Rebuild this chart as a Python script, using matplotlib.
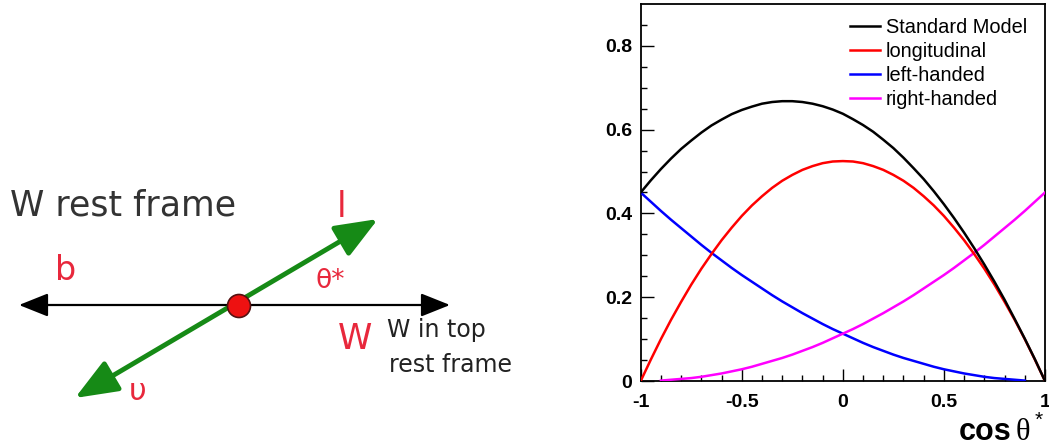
import matplotlib.pyplot as plt
from matplotlib.patches import FancyArrowPatch, Circle

# cos(theta*) sampling points and curve values
cos_theta = [-1.0, -0.95, -0.9, -0.85, -0.8, -0.75, -0.7, -0.65, -0.6, -0.55, -0.5,
             -0.45, -0.4, -0.35, -0.3, -0.25, -0.2, -0.15, -0.1, -0.05, 0.0,
             0.05, 0.1, 0.15, 0.2, 0.25, 0.3, 0.35, 0.4, 0.45, 0.5,
             0.55, 0.6, 0.65, 0.7, 0.75, 0.8, 0.85, 0.9, 0.95, 1.0]
standard_model = [0.450, 0.479, 0.506, 0.531, 0.554, 0.574, 0.593, 0.610, 0.624, 0.637, 0.647,
                  0.655, 0.662, 0.666, 0.668, 0.668, 0.666, 0.662, 0.656, 0.648, 0.638,
                  0.625, 0.611, 0.595, 0.576, 0.556, 0.533, 0.508, 0.482, 0.453, 0.422,
                  0.389, 0.354, 0.317, 0.278, 0.237, 0.194, 0.148, 0.101, 0.052, 0.000]
longitudinal = [0.000, 0.051, 0.100, 0.146, 0.189, 0.230, 0.268, 0.303, 0.336, 0.366, 0.394,
                0.419, 0.441, 0.461, 0.478, 0.492, 0.504, 0.513, 0.520, 0.524, 0.525,
                0.524, 0.520, 0.513, 0.504, 0.492, 0.478, 0.461, 0.441, 0.419, 0.394,
                0.366, 0.336, 0.303, 0.268, 0.230, 0.189, 0.146, 0.100, 0.051, 0.000]
# left-handed runs from -1 to 0.9, right-handed from -0.9 to 1
left_handed = [0.450, 0.428, 0.406, 0.385, 0.365, 0.345, 0.325, 0.306, 0.288, 0.270, 0.253,
               0.237, 0.221, 0.205, 0.190, 0.176, 0.162, 0.149, 0.136, 0.124, 0.113,
               0.102, 0.091, 0.081, 0.072, 0.063, 0.055, 0.048, 0.041, 0.034, 0.028,
               0.023, 0.018, 0.014, 0.010, 0.007, 0.005, 0.003, 0.001]
right_handed = [0.001, 0.003, 0.005, 0.007, 0.010, 0.014, 0.018, 0.023, 0.028,
                0.034, 0.041, 0.048, 0.055, 0.063, 0.072, 0.081, 0.091, 0.102, 0.113,
                0.124, 0.136, 0.149, 0.162, 0.176, 0.190, 0.205, 0.221, 0.237, 0.253,
                0.270, 0.288, 0.306, 0.325, 0.345, 0.365, 0.385, 0.406, 0.428, 0.450]

x_ticks = [-1, -0.5, 0, 0.5, 1]
x_tick_labels = ['-1', '-0.5', '0', '0.5', '1']
y_ticks = [0, 0.2, 0.4, 0.6, 0.8]
y_tick_labels = ['0', '0.2', '0.4', '0.6', '0.8']

fig = plt.figure(figsize=(10.49, 4.48), dpi=100)

# overlay in pixel units for the sketch on the left
ov = fig.add_axes([0, 0, 1, 1])
ov.set_xlim(0, 1049)
ov.set_ylim(448, 0)
ov.axis('off')

red = '#e8283c'
green = '#168a16'

ov.text(10, 205, 'W rest frame', fontsize=25, color='#333333', va='center', ha='left',
        family='DejaVu Sans')

# b axis (horizontal, both directions)
ov.add_patch(FancyArrowPatch((19, 305), (450, 305), arrowstyle='<|-|>,head_length=1.0,head_width=0.4',
                             mutation_scale=18, lw=1.6, color='black', shrinkA=0, shrinkB=0))
# lepton / neutrino axis
ov.add_patch(FancyArrowPatch((75, 398), (378, 219), arrowstyle='<|-|>,head_length=1.0,head_width=0.4',
                             mutation_scale=26, lw=3.5, color=green, shrinkA=0, shrinkB=0))
ov.add_patch(Circle((239, 306), 11.5, facecolor='#ee1111', edgecolor='#551111', lw=1.2, zorder=5))

ov.text(66, 271, 'b', fontsize=24, color=red, ha='center', va='center', family='DejaVu Sans')
ov.text(342, 207, 'l', fontsize=25, color=red, ha='center', va='center', family='DejaVu Sans')
ov.text(330, 281, 'θ*', fontsize=19, color=red, ha='center', va='center', family='DejaVu Sans')
ov.text(355, 339, 'W', fontsize=25, color=red, ha='center', va='center', family='DejaVu Sans')
ov.text(138, 392, 'υ', fontsize=22, color=red, ha='center', va='center', family='DejaVu Sans')
ov.text(387, 337, 'W in top', fontsize=17, color='#222222', ha='left', va='baseline',
        family='DejaVu Sans')
ov.text(389, 372, 'rest frame', fontsize=17, color='#222222', ha='left', va='baseline',
        family='DejaVu Sans')

# x axis title at the bottom right
ov.text(1012, 440, 'cos', fontsize=22, fontweight='bold', ha='right', va='baseline',
        family='Liberation Sans')
ov.text(1016, 440, 'θ', fontsize=22, ha='left', va='baseline', family='Liberation Serif')
ov.text(1035, 426, '*', fontsize=15, ha='left', va='baseline', family='Liberation Sans')

# the plot
ax = fig.add_axes([640.7 / 1049, 67 / 448, 404.3 / 1049, 377 / 448])
ax.plot(cos_theta, standard_model, color='black', lw=1.8, label='Standard Model', zorder=5)
ax.plot(cos_theta, longitudinal, color='#ff0000', lw=1.8, label='longitudinal', zorder=4)
ax.plot(cos_theta[:-2], left_handed, color='#0000ff', lw=1.8, label='left-handed', zorder=3)
ax.plot(cos_theta[2:], right_handed, color='#ff00ff', lw=1.8, label='right-handed', zorder=3)

ax.set_xlim(-1, 1)
ax.set_ylim(0, 0.9)
ax.set_xticks(x_ticks)
ax.set_xticklabels(x_tick_labels)
ax.set_yticks(y_ticks)
ax.set_yticklabels(y_tick_labels)
ax.set_xticks([v / 10 for v in range(-10, 11)], minor=True)
ax.set_yticks([v / 20 for v in range(0, 18)], minor=True)
ax.tick_params(which='both', direction='in', top=False, right=False, width=1)
ax.tick_params(which='major', length=9)
ax.tick_params(which='minor', length=4.5)
ax.tick_params(axis='x', pad=9)
ax.tick_params(axis='y', pad=6)
for lab in ax.get_xticklabels() + ax.get_yticklabels():
    lab.set_fontfamily('Liberation Sans')
    lab.set_fontweight('bold')
    lab.set_fontsize(14)
for sp in ax.spines.values():
    sp.set_linewidth(1.3)

leg = ax.legend(loc='upper right', bbox_to_anchor=(0.966, 0.974), frameon=False,
                prop={'family': 'Liberation Sans', 'size': 14.4},
                handlelength=1.5, handletextpad=0.3, labelspacing=0.26,
                borderaxespad=0, borderpad=0.2)

fig.savefig('out.png', dpi=100)
